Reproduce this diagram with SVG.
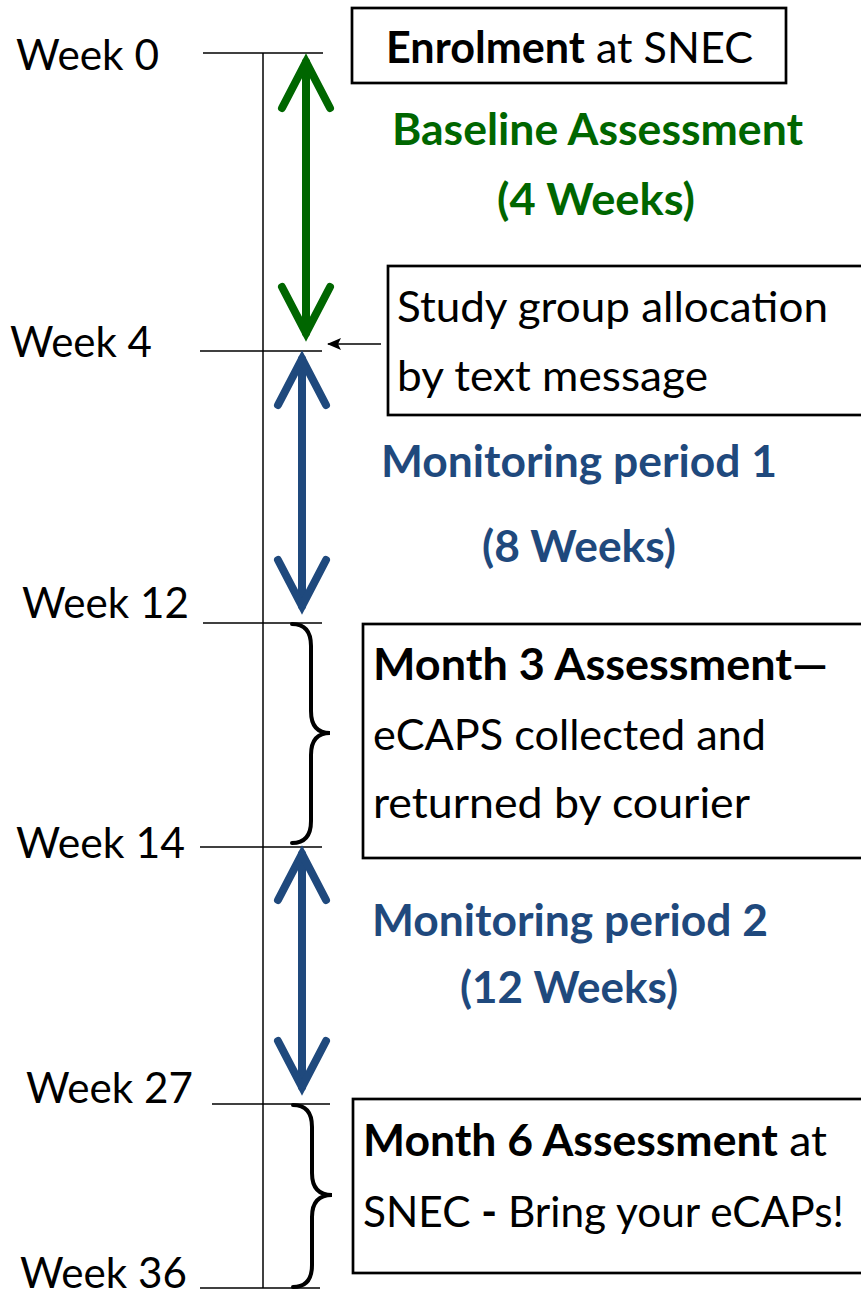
<svg xmlns="http://www.w3.org/2000/svg" width="861" height="1296" viewBox="0 0 861 1296">
<style>
  text { font-family: Lato, "Open Sans", "Liberation Sans", sans-serif; font-size: 43px; fill: #000; }
  .b { font-weight: bold; }
  .green { fill: #006600; font-weight: bold; }
  .blue { fill: #1F497D; font-weight: bold; }
  .tick { stroke: #000; stroke-width: 1.5; fill: none; }
  .box { fill: #fff; stroke: #000; stroke-width: 2.7; }
  .garrow { stroke: #006600; stroke-width: 8; fill: none; stroke-linecap: round; stroke-linejoin: miter; stroke-miterlimit: 10; }
  .barrow { stroke: #1F497D; stroke-width: 8; fill: none; stroke-linecap: round; stroke-linejoin: miter; stroke-miterlimit: 10; }
  .brace { stroke: #000; stroke-width: 4; fill: none; stroke-linecap: round; }
</style>
<defs>
  <marker id="ah" markerWidth="14" markerHeight="12" refX="13" refY="6" orient="auto" markerUnits="userSpaceOnUse">
    <path d="M0,0 L14,6 L0,12 L3,6 Z" fill="#000"/>
  </marker>
</defs>

<g id="timeline">
  <line class="tick" x1="263" y1="53" x2="263" y2="1288"/>
  <line class="tick" x1="203" y1="53" x2="323" y2="53"/>
  <line class="tick" x1="200" y1="351" x2="322" y2="351"/>
  <line class="tick" x1="203" y1="623" x2="322" y2="623"/>
  <line class="tick" x1="200" y1="847" x2="322" y2="847"/>
  <line class="tick" x1="212" y1="1104" x2="330" y2="1104"/>
  <line class="tick" x1="200" y1="1288" x2="320" y2="1288"/>
</g>

<g id="week-labels">
  <text x="16" y="70" textLength="143" lengthAdjust="spacingAndGlyphs">Week 0</text>
  <text x="10" y="357" textLength="142" lengthAdjust="spacingAndGlyphs">Week 4</text>
  <text x="22" y="618" textLength="167" lengthAdjust="spacingAndGlyphs">Week 12</text>
  <text x="16" y="858" textLength="169" lengthAdjust="spacingAndGlyphs">Week 14</text>
  <text x="26" y="1103" textLength="167" lengthAdjust="spacingAndGlyphs">Week 27</text>
  <text x="20" y="1288" textLength="167" lengthAdjust="spacingAndGlyphs">Week 36</text>
</g>

<g id="enrolment">
  <rect class="box" x="352" y="8" width="434" height="75"/>
  <text x="386" y="63" textLength="367" lengthAdjust="spacingAndGlyphs"><tspan class="b">Enrolment</tspan> at SNEC</text>
</g>

<g id="baseline-label">
  <text class="green" x="392" y="145" textLength="411" lengthAdjust="spacingAndGlyphs">Baseline Assessment</text>
  <text class="green" x="497" y="215" textLength="198" lengthAdjust="spacingAndGlyphs">(4 Weeks)</text>
</g>

<g id="allocation">
  <rect class="box" x="388" y="266" width="480" height="149"/>
  <text x="397" y="322" textLength="431" lengthAdjust="spacingAndGlyphs">Study group allocation</text>
  <text x="397" y="391" textLength="311" lengthAdjust="spacingAndGlyphs">by text message</text>
</g>

<g id="monitoring1">
  <text class="blue" x="381" y="477" textLength="396" lengthAdjust="spacingAndGlyphs">Monitoring period 1</text>
  <text class="blue" x="482" y="562" textLength="194" lengthAdjust="spacingAndGlyphs">(8 Weeks)</text>
</g>

<g id="month3">
  <rect class="box" x="363" y="624" width="505" height="234"/>
  <text class="b" x="373" y="680" textLength="455" lengthAdjust="spacingAndGlyphs">Month 3 Assessment—</text>
  <text x="373" y="750" textLength="393" lengthAdjust="spacingAndGlyphs">eCAPS collected and</text>
  <text x="373" y="818" textLength="377" lengthAdjust="spacingAndGlyphs">returned by courier</text>
</g>

<g id="monitoring2">
  <text class="blue" x="372" y="936" textLength="396" lengthAdjust="spacingAndGlyphs">Monitoring period 2</text>
  <text class="blue" x="460" y="1003" textLength="218" lengthAdjust="spacingAndGlyphs">(12 Weeks)</text>
</g>

<g id="month6">
  <rect class="box" x="353" y="1099" width="515" height="174"/>
  <text x="363" y="1156" textLength="464" lengthAdjust="spacingAndGlyphs"><tspan class="b">Month 6 Assessment</tspan> at</text>
  <text x="363" y="1227" textLength="481" lengthAdjust="spacingAndGlyphs">SNEC <tspan class="b">-</tspan> Bring your eCAPs!</text>
</g>

<g id="connectors">
  <line class="garrow" x1="306" y1="62" x2="306" y2="333" stroke-linecap="butt"/>
  <path class="garrow" d="M282,108 L306,62 L330,108"/>
  <path class="garrow" d="M282,287 L306,333 L330,287"/>
  <line class="barrow" x1="302" y1="359" x2="302" y2="606" stroke-linecap="butt"/>
  <path class="barrow" d="M278,405 L302,359 L326,405"/>
  <path class="barrow" d="M278,560 L302,606 L326,560"/>
  <line class="barrow" x1="302" y1="854" x2="302" y2="1087" stroke-linecap="butt"/>
  <path class="barrow" d="M278,900 L302,854 L326,900"/>
  <path class="barrow" d="M278,1041 L302,1087 L326,1041"/>
  <line x1="381" y1="344" x2="328" y2="344" stroke="#000" stroke-width="1.5" marker-end="url(#ah)"/>
  <path class="brace" d="M292,624 Q311,624 311,646 L311,711 Q311,733 330,733 Q311,733 311,755 L311,821 Q311,843 292,843"/>
  <path class="brace" d="M293,1105 Q312,1105 312,1127 L312,1173 Q312,1195 332,1195 Q312,1195 312,1217 L312,1265 Q312,1287 293,1287"/>
</g>
</svg>
